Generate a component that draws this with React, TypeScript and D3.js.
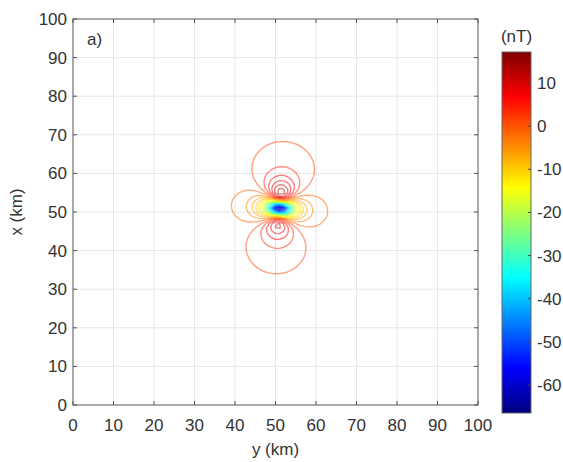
import React from 'react';
import * as d3 from 'd3';

// ---- data ----
const axisTicks = [0, 10, 20, 30, 40, 50, 60, 70, 80, 90, 100];
const colorbarTicks = [10, 0, -10, -20, -30, -40, -50, -60];
const colorbarDomain = [-66.5, 17.2];
const dipoleCenterYX = [51, 51]; // y (km), x (km)
const dipoleDepth = [3.5]; // km
const fieldAngles = [-2, 5]; // inclination, declination (deg)
const contourStart = [-64];
const contourStep = [2.5];
const gridStep = [1]; // km, survey grid spacing

const W = 563, H = 462;
const M = { left: 73, right: 478, top: 19, bottom: 405 };
const CB = { left: 502, right: 531, top: 52, bottom: 413 };
const FONT = "'Liberation Sans', Arial, Helvetica, sans-serif";
const TXT = '#333';

function jet(t: number): string {
  const c = (v: number) => Math.max(0, Math.min(1, v));
  const r = c(1.5 - Math.abs(4 * t - 3));
  const g = c(1.5 - Math.abs(4 * t - 2));
  const b = c(1.5 - Math.abs(4 * t - 1));
  return d3.rgb(r * 255, g * 255, b * 255).formatHex();
}

function buildField() {
  const n = Math.round(100 / gridStep[0]) + 1;
  const [y0, x0] = dipoleCenterYX;
  const h = dipoleDepth[0];
  const I = (fieldAngles[0] * Math.PI) / 180;
  const D = (fieldAngles[1] * Math.PI) / 180;
  const tN = Math.cos(I) * Math.cos(D), tE = Math.cos(I) * Math.sin(D), tD = Math.sin(I);
  const vals = new Float64Array(n * n);
  let mn = Infinity;
  for (let j = 0; j < n; j++) {
    const xv = j * gridStep[0];
    for (let i = 0; i < n; i++) {
      const yv = i * gridStep[0];
      const dn = xv - x0, de = yv - y0, dd = -h;
      const r2 = dn * dn + de * de + dd * dd;
      const r = Math.sqrt(r2);
      const tr = (tN * dn + tE * de + tD * dd) / r;
      const v = (3 * tr * tr - 1) / (r2 * r);
      vals[j * n + i] = v;
      if (v < mn) mn = v;
    }
  }
  const k = colorbarDomain[0] / mn;
  for (let q = 0; q < vals.length; q++) vals[q] *= k;
  return { n, vals };
}

export default function App() {
  const xS = d3.scaleLinear().domain([0, 100]).range([M.left, M.right]);
  const yS = d3.scaleLinear().domain([0, 100]).range([M.bottom, M.top]);
  const cS = d3.scaleLinear().domain(colorbarDomain).range([CB.bottom, CB.top]);
  const col = (v: number) => jet((v - colorbarDomain[0]) / (colorbarDomain[1] - colorbarDomain[0]));

  const { n, vals } = React.useMemo(buildField, []);
  const levels = d3.range(contourStart[0], colorbarDomain[1], contourStep[0]);

  const paths = React.useMemo(() => {
    const neg = Float64Array.from(vals, (v) => -v);
    const gen = d3.contours().size([n, n]).smooth(true);
    const out: { d: string; c: string }[] = [];
    const toPath = (mp: any) => {
      let d = '';
      for (const poly of mp.coordinates) {
        for (const ring of poly) {
          ring.forEach((p: number[], idx: number) => {
            const px = xS((p[0] - 0.5) * gridStep[0]);
            const py = yS((p[1] - 0.5) * gridStep[0]);
            d += (idx === 0 ? 'M' : 'L') + px.toFixed(2) + ',' + py.toFixed(2);
          });
          d += 'Z';
        }
      }
      return d;
    };
    for (const L of levels) {
      const mp = L >= 0 ? gen.contour(vals as any, L) : gen.contour(neg as any, -L);
      const d = toPath(mp);
      if (d) out.push({ d, c: col(L) });
    }
    return out;
  }, [vals]);

  const gradStops = d3.range(0, 65).map((i) => i / 64);

  return (
    <svg width={W} height={H} style={{ position: 'absolute', left: 0, top: 0, background: '#fff' }} fontFamily={FONT}>
      <defs>
        <clipPath id="plotclip">
          <rect x={M.left} y={M.top} width={M.right - M.left} height={M.bottom - M.top} />
        </clipPath>
        <filter id="soft" x="-5%" y="-5%" width="110%" height="110%">
          <feGaussianBlur stdDeviation="0.6" />
        </filter>
        <linearGradient id="jetgrad" x1="0" y1="1" x2="0" y2="0">
          {gradStops.map((t) => (
            <stop key={t} offset={t} stopColor={jet(t)} />
          ))}
        </linearGradient>
      </defs>
      <rect x={M.left} y={M.top} width={M.right - M.left} height={M.bottom - M.top} fill="#fff" />
      {/* grid */}
      {axisTicks.slice(1, -1).map((t) => (
        <g key={'g' + t}>
          <line x1={xS(t)} x2={xS(t)} y1={M.top} y2={M.bottom} stroke="#e6e6e6" strokeWidth={1} />
          <line x1={M.left} x2={M.right} y1={yS(t)} y2={yS(t)} stroke="#e6e6e6" strokeWidth={1} />
        </g>
      ))}
      {/* contours */}
      <g clipPath="url(#plotclip)">
        <g filter="url(#soft)">
          {paths.map((p, i) => (
            <path key={i} d={p.d} fill="none" stroke={p.c} strokeWidth={1.4} strokeOpacity={0.5} strokeLinejoin="round" />
          ))}
        </g>
      </g>
      {/* frame and ticks */}
      <rect x={M.left} y={M.top} width={M.right - M.left} height={M.bottom - M.top} fill="none" stroke="#555" strokeWidth={1} />
      {axisTicks.map((t) => (
        <g key={'t' + t} stroke="#555" strokeWidth={1}>
          <line x1={xS(t)} x2={xS(t)} y1={M.bottom} y2={M.bottom - 4} />
          <line x1={xS(t)} x2={xS(t)} y1={M.top} y2={M.top + 4} />
          <line x1={M.left} x2={M.left + 4} y1={yS(t)} y2={yS(t)} />
          <line x1={M.right} x2={M.right - 4} y1={yS(t)} y2={yS(t)} />
        </g>
      ))}
      {axisTicks.map((t) => (
        <text key={'xl' + t} x={xS(t)} y={431} textAnchor="middle" fontSize={17} fill={TXT}>
          {t}
        </text>
      ))}
      {axisTicks.map((t) => (
        <text key={'yl' + t} x={M.left - 6} y={yS(t) + 6} textAnchor="end" fontSize={17} fill={TXT}>
          {t}
        </text>
      ))}
      <text x={(M.left + M.right) / 2} y={455} textAnchor="middle" fontSize={17} fill={TXT}>
        y (km)
      </text>
      <text transform={`translate(22,${(M.top + M.bottom) / 2}) rotate(-90)`} textAnchor="middle" fontSize={17} fill={TXT}>
        x (km)
      </text>
      <text x={M.left + 14} y={45} fontSize={17} fill={TXT}>
        a)
      </text>
      {/* colorbar */}
      <rect x={CB.left} y={CB.top} width={CB.right - CB.left} height={CB.bottom - CB.top} fill="url(#jetgrad)" stroke="#666" strokeWidth={1} />
      {colorbarTicks.map((t) => (
        <g key={'c' + t}>
          <line x1={CB.right} x2={CB.right - 3} y1={cS(t)} y2={cS(t)} stroke="#444" strokeWidth={1} />
          <text x={CB.right + 6} y={cS(t) + 6} fontSize={17} fill={TXT}>
            {t}
          </text>
        </g>
      ))}
      <text x={(CB.left + CB.right) / 2} y={42} textAnchor="middle" fontSize={17} fill={TXT}>
        (nT)
      </text>
    </svg>
  );
}
